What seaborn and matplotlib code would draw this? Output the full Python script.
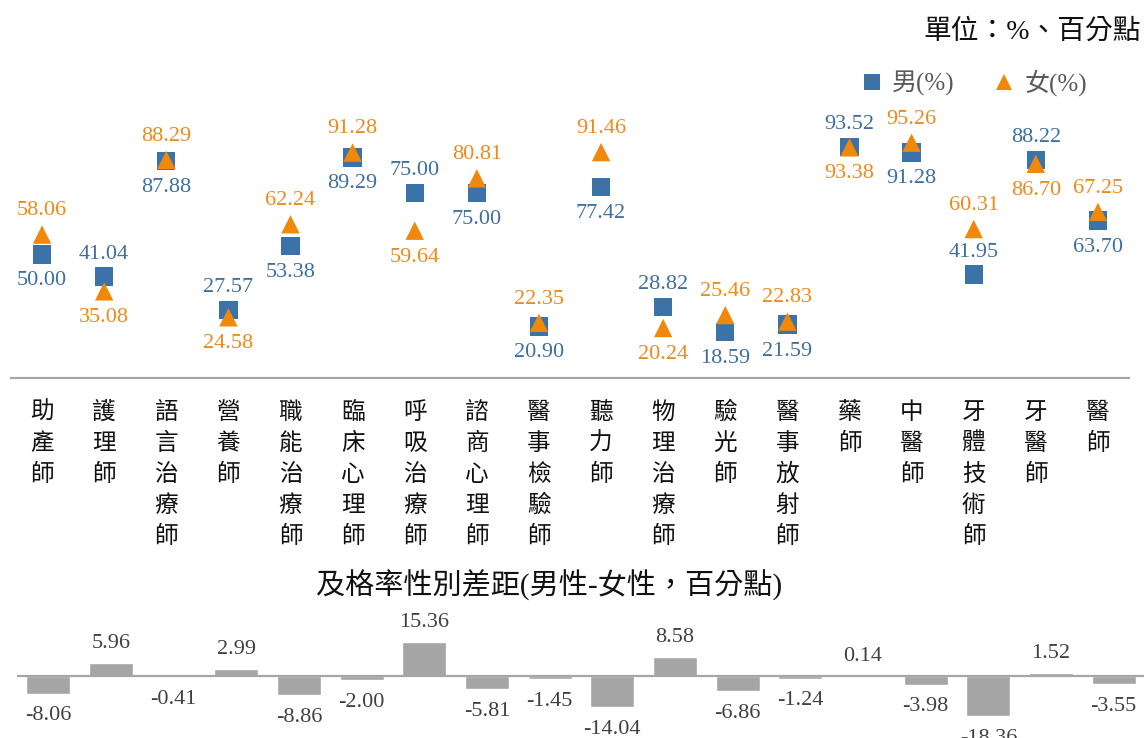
import numpy as np
import pandas as pd
import matplotlib
matplotlib.use('Agg')
import matplotlib.pyplot as plt
import matplotlib.transforms as mtransforms
import seaborn as sns

# Data
categories = ['助產師', '護理師', '語言治療師', '營養師', '職能治療師', '臨床心理師',
              '呼吸治療師', '諮商心理師', '醫事檢驗師', '聽力師', '物理治療師', '驗光師',
              '醫事放射師', '藥師', '中醫師', '牙體技術師', '牙醫師', '醫師']
male = [50.00, 41.04, 87.88, 27.57, 53.38, 89.29, 75.00, 75.00, 20.90, 77.42,
        28.82, 18.59, 21.59, 93.52, 91.28, 41.95, 88.22, 63.70]
female = [58.06, 35.08, 88.29, 24.58, 62.24, 91.28, 59.64, 80.81, 22.35, 91.46,
          20.24, 25.46, 22.83, 93.38, 95.26, 60.31, 86.70, 67.25]
gap = [-8.06, 5.96, -0.41, 2.99, -8.86, -2.00, 15.36, -5.81, -1.45, -14.04,
       8.58, -6.86, -1.24, 0.14, -3.98, -18.36, 1.52, -3.55]
series_names = ['男(%)', '女(%)']
male_label_above = {'牙體技術師'}  # label sits above even though lower

BLUE = '#3B73A8'
ORANGE = '#F0880A'
BLUE_TXT = '#3D6FA0'
ORANGE_TXT = '#EE8A1A'
GREY = '#A5A5A5'

W, H = 1144, 738

sns.set_style('white')
plt.rcParams['font.family'] = ['Noto Sans CJK TC', 'DejaVu Sans']
NUM_FONT = ['Liberation Serif', 'DejaVu Serif']
MIX_FONT = ['Liberation Serif', 'Noto Sans CJK TC']


def fx(px):
    return px / W


def fy(px):
    return 1 - px / H


def main():
    fig = plt.figure(figsize=(W / 100, H / 100), dpi=100)

    # ---- top panel: pass rates by sex ----
    ax_top = fig.add_axes([fx(11), fy(378), fx(1129) - fx(11), fy(40) - fy(378)])
    n = len(categories)
    df = pd.DataFrame({
        'x': np.tile(np.arange(n), 2),
        'value': male + female,
        'sex': [series_names[0]] * n + [series_names[1]] * n,
    })
    sns.scatterplot(data=df, x='x', y='value', hue='sex', style='sex',
                    markers={series_names[0]: 's', series_names[1]: '^'},
                    palette={series_names[0]: BLUE, series_names[1]: ORANGE},
                    s=175, edgecolor='none', linewidth=0, ax=ax_top)
    ax_top.set_xlim(-0.5, n - 0.5)
    ax_top.set_ylim(0, 338 / 2.47)
    ax_top.set_xlabel('')
    ax_top.set_ylabel('')
    ax_top.set_xticks([])
    ax_top.set_yticks([])
    for side in ['top', 'right', 'left']:
        ax_top.spines[side].set_visible(False)
    ax_top.spines['bottom'].set_color('#A6A6A6')
    ax_top.spines['bottom'].set_linewidth(1.6)

    # value labels
    for i, cat in enumerate(categories):
        m, f = male[i], female[i]
        m_up = m >= f or cat in male_label_above
        f_up = f > m
        ax_top.annotate(f'{m:.2f}', (i, m), xytext=(0, 16 if m_up else -19),
                        textcoords='offset points', ha='center', va='center',
                        fontsize=16, color=BLUE_TXT, family=NUM_FONT)
        ax_top.annotate(f'{f:.2f}', (i, f), xytext=(0, 17 if f_up else -19),
                        textcoords='offset points', ha='center', va='center',
                        fontsize=16, color=ORANGE_TXT, family=NUM_FONT)

    # legend
    handles, labels = ax_top.get_legend_handles_labels()
    ax_top.get_legend().remove()
    fig.legend(handles, labels, loc='center', bbox_to_anchor=(fx(973), fy(83)),
               ncol=2, frameon=False, prop={'family': MIX_FONT, 'size': 18},
               handlelength=1.0, handletextpad=0.3, columnspacing=1.5,
               labelcolor='#595959', markerscale=0.85)

    # vertical category labels
    trans = mtransforms.blended_transform_factory(ax_top.transData, fig.transFigure)
    for i, cat in enumerate(categories):
        ax_top.text(i, fy(401), '\n'.join(cat), transform=trans, ha='center',
                    va='top', fontsize=17, linespacing=1.45, color='#111111')

    fig.text(fx(1141), fy(32), '單位：%、百分點', ha='right', va='center',
             fontsize=20, color='#111111', family=MIX_FONT)

    # ---- bottom panel: gap ----
    ax_bot = fig.add_axes([fx(17), 0, fx(1145) - fx(17), fy(600)])
    gap_df = pd.DataFrame({'職業': categories, '差距': gap})
    sns.barplot(data=gap_df, x='職業', y='差距', color=GREY, saturation=1,
                width=0.7, ax=ax_bot)
    ax_bot.set_xlim(-0.5, n - 0.5)
    ax_bot.set_ylim(-(738 - 676) / 2.2, (676 - 600) / 2.2)
    ax_bot.axhline(0, color='#A6A6A6', linewidth=1.6, zorder=3)
    ax_bot.set_xlabel('')
    ax_bot.set_ylabel('')
    ax_bot.set_xticks([])
    ax_bot.set_yticks([])
    sns.despine(ax=ax_bot, left=True, bottom=True)
    for i, g in enumerate(gap):
        ax_bot.annotate(f'{g:.2f}', (i, g), xytext=(0, 14 if g >= 0 else -16),
                        textcoords='offset points', ha='center', va='center',
                        fontsize=16, color='#404040', family=NUM_FONT,
                        annotation_clip=False)

    fig.text(fx(549), fy(585), '及格率性別差距(男性-女性，百分點)', ha='center',
             va='center', fontsize=21, color='#111111', family=MIX_FONT)

    fig.savefig('out.png', dpi=100)


if __name__ == '__main__':
    main()
